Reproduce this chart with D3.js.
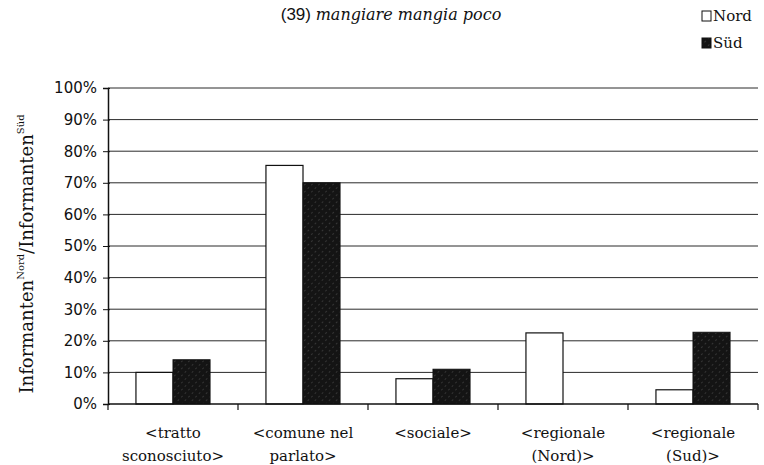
<!DOCTYPE html>
<html>
<head>
<meta charset="utf-8">
<script src="https://cdn.jsdelivr.net/npm/d3@7"></script>
<style>
  body { margin: 0; background: #fff; }
  svg { display: block; }
</style>
</head>
<body>
<div id="chart"></div>
<script>
const categories = [['<tratto', 'sconosciuto>'], ['<comune nel', 'parlato>'], ['<sociale>'], ['<regionale', '(Nord)>'], ['<regionale', '(Sud)>']];
const series = ['Nord', 'Süd'];
const nord = [10, 75.5, 8, 22.5, 4.5];
const sud = [14, 70, 11, 0, 22.7];
const yTicks = [0, 10, 20, 30, 40, 50, 60, 70, 80, 90, 100];

const W = 764, H = 465;
const margin = { top: 88, right: 6, bottom: 61, left: 108 };
const width = W - margin.left - margin.right;
const height = H - margin.top - margin.bottom;

const svg = d3.select('#chart').append('svg').attr('width', W).attr('height', H);

const defs = svg.append('defs');
const pat = defs.append('pattern').attr('id', 'hatch').attr('patternUnits', 'userSpaceOnUse')
  .attr('width', 5).attr('height', 5).attr('patternTransform', 'rotate(45)');
pat.append('rect').attr('width', 5).attr('height', 5).attr('fill', '#141414');
pat.append('line').attr('x1', 0).attr('y1', 0).attr('x2', 0).attr('y2', 5)
  .attr('stroke', '#6a6a6a').attr('stroke-width', 0.8).attr('stroke-dasharray', '2 3');

const g = svg.append('g').attr('transform', `translate(${margin.left},${margin.top})`);

const idx = categories.map((_, i) => i);
const x0 = d3.scaleBand().domain(idx).range([0, width]).paddingInner(0).paddingOuter(0);
const x1 = d3.scaleBand().domain(series).range([x0.bandwidth() * 0.215, x0.bandwidth() * 0.785]);
const y = d3.scaleLinear().domain([0, 100]).range([height, 0]);

// gridlines
g.selectAll('.grid').data(yTicks.slice(1)).enter().append('line')
  .attr('x1', 0).attr('x2', width).attr('y1', d => y(d)).attr('y2', d => y(d))
  .attr('stroke', '#2a2a2a').attr('stroke-width', 1);

// bars
const groups = g.selectAll('.cat').data(idx).enter().append('g')
  .attr('transform', i => `translate(${x0(i)},0)`);
groups.append('rect')
  .attr('x', x1('Nord')).attr('width', x1.bandwidth())
  .attr('y', i => y(nord[i])).attr('height', i => height - y(nord[i]))
  .attr('fill', '#fff').attr('stroke', '#111').attr('stroke-width', 1.2);
groups.filter(i => sud[i] > 0).append('rect')
  .attr('x', x1('Süd')).attr('width', x1.bandwidth())
  .attr('y', i => y(sud[i])).attr('height', i => height - y(sud[i]))
  .attr('fill', 'url(#hatch)').attr('stroke', '#111').attr('stroke-width', 1);

// y axis
const yAxis = d3.axisLeft(y).tickValues(yTicks).tickFormat(d => d + '%').tickSize(5).tickPadding(6);
const ya = g.append('g').call(yAxis);
ya.select('.domain').attr('stroke', '#111').attr('stroke-width', 1.5);
ya.selectAll('.tick line').attr('stroke', '#111').attr('x2', -5).attr('x1', 2);
ya.selectAll('.tick text').style('font-family', '"DejaVu Sans", sans-serif').style('font-size', '15px').style('fill', '#111');

// x axis
const xa = g.append('g').attr('transform', `translate(0,${height})`);
xa.append('line').attr('x1', 0).attr('x2', width).attr('stroke', '#111').attr('stroke-width', 1.5);
xa.selectAll('.xt').data(idx.concat([idx.length])).enter().append('line')
  .attr('x1', i => i < idx.length ? x0(i) : width).attr('x2', i => i < idx.length ? x0(i) : width)
  .attr('y1', 0).attr('y2', 6).attr('stroke', '#111').attr('stroke-width', 1.2);
const labels = xa.selectAll('.xl').data(idx).enter().append('text')
  .attr('x', i => x0(i) + x0.bandwidth() / 2).attr('y', 34)
  .attr('text-anchor', 'middle')
  .style('font-family', '"DejaVu Serif", serif').style('font-size', '15px').style('fill', '#111');
labels.selectAll('tspan').data(i => categories[i]).enter().append('tspan')
  .attr('x', function () { return d3.select(this.parentNode).attr('x'); })
  .attr('dy', (d, j) => j === 0 ? 0 : 23).text(d => d);

// y label
const yl = svg.append('text').attr('transform', `translate(33,${margin.top + height / 2 + 8}) rotate(-90)`)
  .attr('text-anchor', 'middle')
  .style('font-family', '"DejaVu Serif", serif').style('font-size', '18px').style('fill', '#111');
yl.append('tspan').text('Informanten');
yl.append('tspan').attr('dy', -9).style('font-size', '10px').text('Nord');
yl.append('tspan').attr('dy', 9).text('/Informanten');
yl.append('tspan').attr('dy', -9).style('font-size', '10px').text('Süd');

// title
const title = svg.append('text').attr('x', 391).attr('y', 20).attr('text-anchor', 'middle')
  .style('font-size', '17px').style('fill', '#111');
title.append('tspan').style('font-family', '"Liberation Sans", Arial, sans-serif').text('(39) ');
title.append('tspan').style('font-family', '"DejaVu Serif", serif').style('font-style', 'italic')
  .style('font-size', '16px').text('mangiare mangia poco');

// legend
const lg = svg.append('g').attr('transform', 'translate(702,10)');
const li = lg.selectAll('g').data(series).enter().append('g').attr('transform', (d, i) => `translate(0,${i * 27})`);
li.append('rect').attr('x', 0).attr('y', 1).attr('width', 9).attr('height', 10)
  .attr('fill', d => d === 'Nord' ? '#fff' : 'url(#hatch)').attr('stroke', '#111').attr('stroke-width', 1);
li.append('text').attr('x', 11).attr('y', 11).text(d => d)
  .style('font-family', '"DejaVu Serif", serif').style('font-size', '15px').style('fill', '#111');
</script>
</body>
</html>
